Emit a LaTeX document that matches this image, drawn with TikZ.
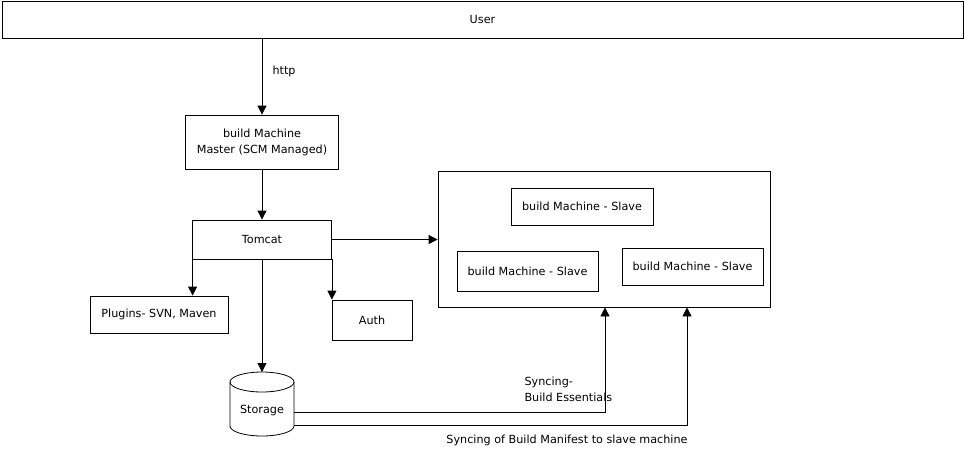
\documentclass[tikz,border=0pt]{standalone}
\usepackage{fontspec}
\setmainfont{DejaVu Sans}
\usetikzlibrary{arrows.meta}
\begin{document}
\begin{tikzpicture}[x=1pt,y=-1pt,
  every node/.style={font=\fontsize{11.2pt}{16pt}\selectfont},
  box/.style={draw,line width=0.8pt,inner sep=0pt},
  arr/.style={line width=0.8pt,-{Triangle[length=9pt,width=9pt]}},
  ln/.style={line width=0.8pt}]
\useasboundingbox (0,0) rectangle (965,450);
\node[box,minimum width=961pt,minimum height=37pt] (user) at (482.5,19.5) {User};
\node[box,minimum width=153pt,minimum height=54pt,align=center] (master) at (262,142) {build Machine\\Master (SCM Managed)};
\node[box,minimum width=139pt,minimum height=39pt] (tomcat) at (262,239.5) {Tomcat};
\node[box,minimum width=332pt,minimum height=136pt] (cont) at (604,239) {};
\node[box,minimum width=142pt,minimum height=37pt] (s1) at (582,206.5) {build Machine - Slave};
\node[box,minimum width=141pt,minimum height=40pt] (s2) at (527.5,271) {build Machine - Slave};
\node[box,minimum width=141pt,minimum height=37pt] (s3) at (692.5,266.5) {build Machine - Slave};
\node[box,minimum width=138pt,minimum height=37pt] (plugins) at (159,314.5) {Plugins- SVN, Maven};
\node[box,minimum width=80pt,minimum height=40pt] (auth) at (372,320) {Auth};
\node[minimum width=64pt,minimum height=54pt,inner sep=0pt] (storage) at (262,410) {Storage};
\draw[ln] (230,382) arc[start angle=180,end angle=360,x radius=32,y radius=10]
  -- (294,426) arc[start angle=0,end angle=180,x radius=32,y radius=10] -- cycle;
\draw[ln] (230,382) arc[start angle=180,end angle=0,x radius=32,y radius=10];
\coordinate (stop) at (262,372);
\node (http) at (284,71) {http};
\draw[arr] (user.south -| master.north) -- (master.north);
\draw[arr] (master.south) -- (master.south |- tomcat.north);
\draw[arr] (tomcat.east) -- (tomcat.east -| cont.west);
\draw[arr] ([xshift=0.5pt]tomcat.south west) -- ([xshift=0.5pt]tomcat.south west |- plugins.north);
\draw[arr] (tomcat.south east) -- (tomcat.south east |- auth.north);
\draw[arr] (tomcat.south) -- (stop);
\draw[arr] ([yshift=-2pt]storage.east) -| ([xshift=1pt]cont.south);
\draw[arr] ([yshift=-15pt]storage.east) -| ([xshift=83pt]cont.south);
\node[anchor=west,align=left] (l1) at (521,389) {Syncing-\\Build Essentials};
\node (l2) at (567,440) {Syncing of Build Manifest to slave machine};
\end{tikzpicture}
\end{document}
